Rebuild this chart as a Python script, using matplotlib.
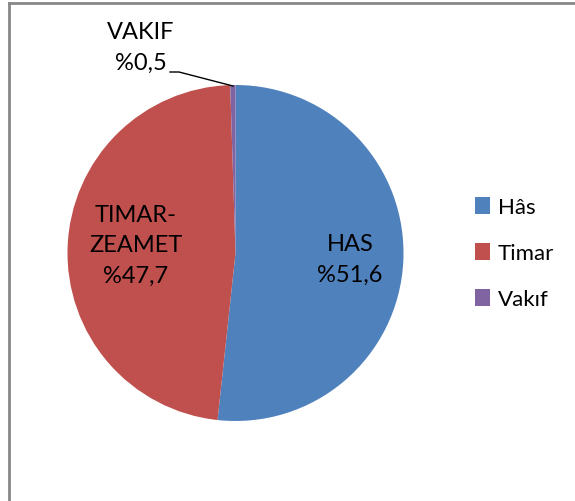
import matplotlib
matplotlib.use("Agg")
import matplotlib.pyplot as plt
from matplotlib.patches import Patch
from matplotlib.lines import Line2D

# Data
categories = ["Hâs", "Timar", "Vakıf"]
shares = [51.6, 47.7, 0.5]
slice_labels = ["HAS\n%51,6", "TIMAR-\nZEAMET\n%47,7", "VAKIF\n%0,5"]
colors = ["#4F81BD", "#C0504D", "#8064A2"]

W, H = 575, 502
plt.rcParams["font.family"] = ["Lato", "DejaVu Sans"]

fig = plt.figure(figsize=(W / 100, H / 100), dpi=100)
ax = fig.add_axes([0, 0, 1, 1])

# pie in pixel coordinates
cx, cy, r = 235.5, H - 254, 168
ax.pie(shares, colors=colors, startangle=90, counterclock=False,
       center=(cx, cy), radius=r, frame=True,
       wedgeprops={"linewidth": 0})
ax.set_xlim(0, W)
ax.set_ylim(0, H)
ax.axis("off")

# slice labels
fs = 17
ax.text(350, H - 260, slice_labels[0], ha="center", va="center",
        fontsize=fs, linespacing=1.55)
ax.text(136, H - 246, slice_labels[1], ha="center", va="center",
        fontsize=fs, linespacing=1.55)
ax.text(141, H - 48, slice_labels[2], ha="center", va="center",
        fontsize=fs, linespacing=1.55)
# leader line for the small slice
ax.plot([170, 179, 233], [H - 73, H - 73, H - 87], color="black", lw=1)

# frame (only top and left are inside the picture)
fig.add_artist(Line2D([9 / W, 9 / W], [0, 1 - 4 / H], color="#888888",
                      lw=2, transform=fig.transFigure))
fig.add_artist(Line2D([9 / W, 1], [1 - 4 / H, 1 - 4 / H], color="#888888",
                      lw=2, transform=fig.transFigure))

handles = [Patch(facecolor=c, edgecolor="none") for c in colors]
fig.legend(handles, categories, loc="center left",
           bbox_to_anchor=(475 / W, 1 - 254 / H), frameon=False,
           fontsize=16, handlelength=0.68, handleheight=0.8,
           handletextpad=0.35, labelspacing=1.15, borderpad=0,
           borderaxespad=0)

fig.savefig("out.png", dpi=100)
